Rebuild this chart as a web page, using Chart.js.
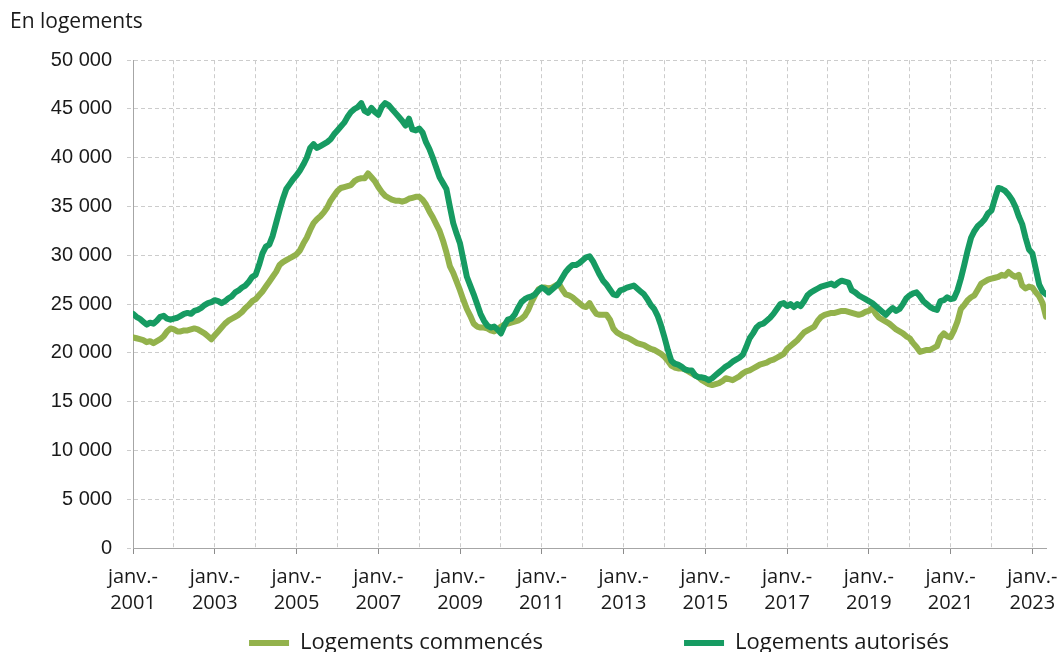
<!DOCTYPE html>
<html lang="fr">
<head>
<meta charset="utf-8">
<script src="https://cdn.jsdelivr.net/npm/chart.js@4/dist/chart.umd.min.js"></script>
<style>
  html, body { margin: 0; padding: 0; background: #ffffff; }
  #wrap { width: 1062px; height: 652px; }
</style>
</head>
<body>
<div id="wrap"><canvas id="c" width="1062" height="652"></canvas></div>
<script>
// Période : janvier 2001 à mai 2023 (données mensuelles, en milliers de logements)
const yearLabels = ['2001','2003','2005','2007','2009','2011','2013','2015','2017','2019','2021','2023'];
const seriesNames = ['Logements commencés', 'Logements autorisés'];

const commences = [
  21.6, 21.5, 21.4, 21.3, 21.1, 21.2, 21.0, 21.2, 21.4, 21.7, 22.2, 22.5,
  22.4, 22.2, 22.2, 22.3, 22.3, 22.4, 22.5, 22.4, 22.2, 22.0, 21.7, 21.4,
  21.8, 22.2, 22.6, 23.0, 23.3, 23.5, 23.7, 23.9, 24.2, 24.6, 24.9, 25.3,
  25.5, 25.9, 26.3, 26.8, 27.3, 27.8, 28.3, 29.0, 29.3, 29.5, 29.7, 29.9,
  30.1, 30.5, 31.2, 31.8, 32.6, 33.3, 33.7, 34.0, 34.4, 34.9, 35.6, 36.1,
  36.6, 36.9, 37.0, 37.1, 37.2, 37.6, 37.8, 37.9, 37.9, 38.4, 38.0, 37.6,
  37.0, 36.5, 36.1, 35.9, 35.7, 35.6, 35.6, 35.5, 35.6, 35.8, 35.9, 36.0,
  36.0, 35.7, 35.2, 34.5, 33.9, 33.2, 32.5, 31.5, 30.3, 28.9, 28.2, 27.3,
  26.4, 25.4, 24.5, 23.8, 23.0, 22.7, 22.6, 22.6, 22.5, 22.3, 22.2, 22.4,
  22.7, 22.9, 23.0, 23.1, 23.2, 23.3, 23.5, 23.8, 24.4, 25.2, 25.9, 26.5,
  26.7, 26.7, 26.6, 26.7, 26.9, 27.1, 26.5, 26.0, 25.9, 25.7, 25.4, 25.1,
  24.8, 24.7, 25.1, 24.5, 24.0, 23.9, 23.9, 23.9, 23.4, 22.5, 22.1, 21.9,
  21.7, 21.6, 21.4, 21.2, 21.0, 20.9, 20.8, 20.6, 20.4, 20.3, 20.1, 19.9,
  19.6, 19.2, 18.7, 18.5, 18.4, 18.4, 18.3, 18.1, 17.9, 17.7, 17.5, 17.2,
  17.0, 16.8, 16.7, 16.8, 16.9, 17.1, 17.4, 17.3, 17.2, 17.4, 17.6, 17.9,
  18.1, 18.2, 18.4, 18.6, 18.8, 18.9, 19.0, 19.2, 19.3, 19.5, 19.7, 19.9,
  20.4, 20.7, 21.0, 21.3, 21.7, 22.1, 22.3, 22.5, 22.7, 23.3, 23.7, 23.9,
  24.0, 24.1, 24.1, 24.2, 24.3, 24.3, 24.2, 24.1, 24.0, 23.9, 24.0, 24.2,
  24.3, 24.6, 24.0, 23.6, 23.4, 23.2, 23.0, 22.7, 22.4, 22.2, 22.0, 21.7,
  21.5, 21.0, 20.6, 20.1, 20.2, 20.3, 20.3, 20.5, 20.7, 21.6, 22.0, 21.7,
  21.6, 22.3, 23.2, 24.5, 24.9, 25.4, 25.7, 25.9, 26.5, 27.1, 27.3, 27.5,
  27.6, 27.7, 27.8, 28.0, 27.9, 28.3, 28.0, 27.8, 28.0, 26.9, 26.6, 26.8,
  26.7, 26.2, 25.8, 25.1, 23.7
];

const autorises = [
  24.0, 23.7, 23.5, 23.2, 22.9, 23.1, 23.0, 23.3, 23.7, 23.8, 23.5, 23.4,
  23.5, 23.6, 23.8, 24.0, 24.1, 24.0, 24.3, 24.4, 24.6, 24.9, 25.1, 25.2,
  25.4, 25.3, 25.1, 25.3, 25.6, 25.8, 26.2, 26.4, 26.7, 26.9, 27.3, 27.8,
  28.0, 29.0, 30.2, 30.9, 31.1, 32.0, 33.3, 34.6, 35.8, 36.8, 37.3, 37.8,
  38.2, 38.7, 39.3, 40.0, 41.0, 41.4, 41.0, 41.2, 41.4, 41.6, 41.9, 42.4,
  42.8, 43.2, 43.6, 44.2, 44.7, 45.0, 45.2, 45.6, 44.8, 44.6, 45.1, 44.7,
  44.4, 45.2, 45.6, 45.4, 45.0, 44.6, 44.2, 43.8, 43.3, 44.0, 42.9, 42.8,
  43.0, 42.6, 41.6, 40.9, 40.0, 39.0, 38.0, 37.4, 36.8, 35.0, 33.3, 32.2,
  31.2, 29.5, 27.8, 26.9, 26.0, 25.0, 24.0, 23.3, 22.8, 22.6, 22.7, 22.4,
  22.0, 22.8, 23.4, 23.5, 23.9, 24.6, 25.2, 25.5, 25.7, 25.8, 26.0, 26.4,
  26.7, 26.5, 26.2, 26.5, 26.8, 27.1, 27.7, 28.3, 28.7, 29.0, 29.0, 29.2,
  29.5, 29.8, 29.9, 29.4, 28.7, 28.0, 27.4, 27.0, 26.5, 26.0, 25.9, 26.4,
  26.5, 26.7, 26.8, 26.9, 26.6, 26.3, 26.0, 25.5, 24.9, 24.5, 23.8, 22.8,
  21.6, 20.3, 19.2, 18.9, 18.8, 18.6, 18.3, 18.2, 18.2, 17.7, 17.5, 17.5,
  17.4, 17.2, 17.4, 17.7, 18.0, 18.3, 18.6, 18.8, 19.1, 19.3, 19.5, 19.8,
  20.6, 21.5, 22.0, 22.6, 22.9, 23.0, 23.3, 23.6, 24.0, 24.5, 25.0, 25.1,
  24.8, 25.0, 24.7, 25.0, 24.8, 25.3, 25.9, 26.2, 26.4, 26.6, 26.8, 26.9,
  27.0, 27.1, 26.9, 27.2, 27.4, 27.3, 27.2, 26.4, 26.2, 25.9, 25.7, 25.5,
  25.3, 25.1, 24.8, 24.5, 24.2, 23.9, 24.3, 24.6, 24.3, 24.5, 25.0, 25.6,
  25.9, 26.1, 26.2, 25.8, 25.3, 25.0, 24.7, 24.5, 24.4, 25.3, 25.4, 25.7,
  25.5, 25.6, 26.4, 27.6, 29.0, 30.5, 31.8, 32.5, 33.0, 33.3, 33.7, 34.3,
  34.6, 35.8, 36.9, 36.8, 36.6, 36.2, 35.7, 35.0, 34.0, 33.2, 31.8, 30.6,
  30.2, 28.6, 27.0, 26.3, 26.0
];

const yTicks = [0, 5000, 10000, 15000, 20000, 25000, 30000, 35000, 40000, 45000, 50000];

const fmt = v => String(v).replace(/\B(?=(\d{3})+(?!\d))/g, ' ');
const toPoints = arr => arr.map((v, i) => ({ x: i, y: v * 1000 }));
const lastIndex = commences.length - 1;

const legendPlacer = {
  id: 'legendPlacer',
  beforeDraw(chart) {
    const lg = chart.legend;
    if (!lg) return;
    const pad = lg.options.labels.padding;
    const fs = lg.options.labels.font.size;
    const centerX = 599;
    const textMid = 643;
    lg.left = centerX - 560;
    lg.right = centerX + 560;
    lg.top = textMid - fs / 2 - pad;
    lg.bottom = 652;
  }
};

new Chart(document.getElementById('c'), {
  type: 'line',
  data: {
    datasets: [
      {
        label: seriesNames[0],
        data: toPoints(commences),
        borderColor: '#93b24c',
        backgroundColor: '#93b24c',
        borderWidth: 6,
        pointRadius: 0,
        tension: 0,
        borderJoinStyle: 'round',
        borderCapStyle: 'round',
        order: 2
      },
      {
        label: seriesNames[1],
        data: toPoints(autorises),
        borderColor: '#169b62',
        backgroundColor: '#169b62',
        borderWidth: 6,
        pointRadius: 0,
        tension: 0,
        borderJoinStyle: 'round',
        borderCapStyle: 'round',
        order: 1
      }
    ]
  },
  options: {
    responsive: false,
    animation: false,
    devicePixelRatio: 1,
    layout: { padding: { left: 10, right: 16, top: 0, bottom: 0 } },
    plugins: {
      tooltip: { enabled: false },
      title: {
        display: true,
        text: 'En logements',
        align: 'start',
        color: '#1a1a1a',
        font: { family: 'Open Sans', size: 21, weight: 'normal' },
        padding: { top: 9, bottom: 26 }
      },
      legend: {
        display: true,
        position: 'bottom',
        maxHeight: 41,
        labels: {
          usePointStyle: true,
          pointStyle: 'line',
          pointStyleWidth: 40,
          boxHeight: 22,
          padding: 141,
          color: '#1a1a1a',
          font: { family: 'Open Sans', size: 22 },
          sort: (a, b) => a.datasetIndex - b.datasetIndex
        }
      }
    },
    scales: {
      x: {
        type: 'linear',
        min: 0,
        max: lastIndex,
        afterFit: s => { s.height = 63; s.paddingLeft = 0; s.paddingRight = 0; },
        border: { display: true, color: '#a6a6a6', width: 1, dash: [4, 3] },
        grid: {
          color: '#cccccc',
          lineWidth: 1,
          drawTicks: true,
          tickLength: 6,
          tickColor: ctx => (ctx.tick && ctx.tick.value % 24 === 0) ? '#8c8c8c' : 'rgba(0,0,0,0)',
          tickBorderDash: []
        },
        ticks: {
          stepSize: 12,
          includeBounds: false,
          autoSkip: false,
          maxRotation: 0,
          padding: 10,
          color: '#1a1a1a',
          font: { family: 'Open Sans', size: 20, lineHeight: 1.3 },
          callback: v => (v % 24 === 0) ? ['janv.-', yearLabels[v / 24]] : ''
        }
      },
      y: {
        min: 0,
        max: 50000,
        afterFit: s => { s.width = 123; },
        afterBuildTicks: s => { s.ticks = yTicks.map(v => ({ value: v })); },
        border: { display: true, color: '#a6a6a6', width: 1, dash: [4, 3] },
        grid: {
          color: '#cccccc',
          lineWidth: 1,
          drawTicks: true,
          tickLength: 6,
          tickColor: '#cccccc',
          tickBorderDash: [4, 3]
        },
        ticks: {
          padding: 15,
          color: '#1a1a1a',
          font: { family: 'Liberation Sans', size: 20 },
          callback: v => fmt(v)
        }
      }
    }
  },
  plugins: [legendPlacer]
});
</script>
</body>
</html>
